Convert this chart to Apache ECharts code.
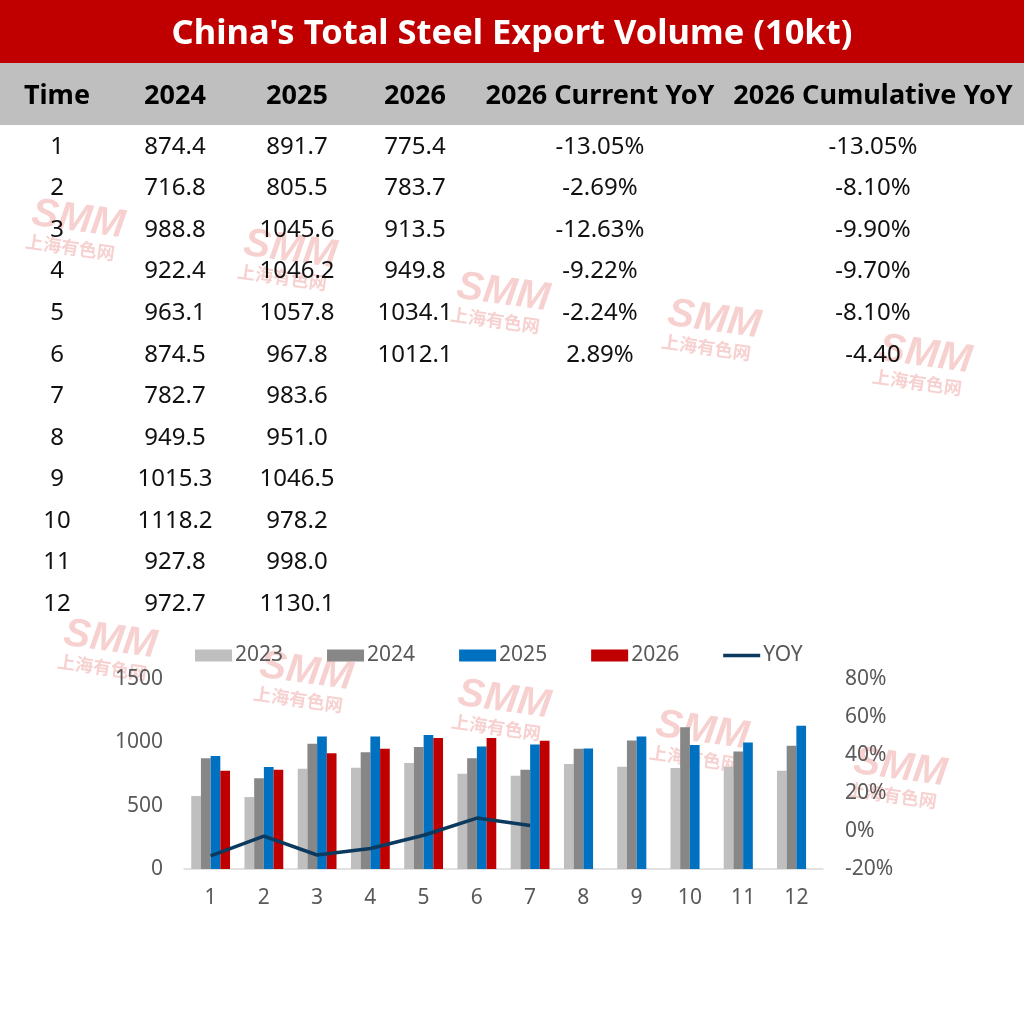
<!DOCTYPE html>
<html lang="en">
<head>
    <meta charset="utf-8">
    <title>China's Total Steel Export Volume</title>
    <style>
        html, body { margin: 0; padding: 0; background: #fff; }
        #main { width: 1024px; height: 1014px; }
    </style>
</head>
<body>
<div id="main"></div>
<script src="https://cdn.jsdelivr.net/npm/echarts@6/dist/echarts.min.js"></script>
<script type="text/javascript">

    // months (chart categories and table rows)
    var months = ['1', '2', '3', '4', '5', '6', '7', '8', '9', '10', '11', '12'];

    // chart series
    var v2023 = [576, 568, 791, 799, 836, 752, 736, 828, 807, 797, 807, 776];
    var v2024 = [874.4, 716.8, 988.8, 922.4, 963.1, 874.5, 782.7, 949.5, 1015.3, 1118.2, 927.8, 972.7];
    var v2025 = [891.7, 805.5, 1045.6, 1046.2, 1057.8, 967.8, 983.6, 951.0, 1046.5, 978.2, 998.0, 1130.1];
    var v2026 = [775.4, 783.7, 913.5, 949.8, 1034.1, 1034.0, 1012.1];
    var yoy = [-13.05, -2.69, -12.63, -9.22, -2.24, 6.80, 2.89];

    // table columns
    var tableHead = ['Time', '2024', '2025', '2026', '2026 Current YoY', '2026 Cumulative YoY'];
    var t2026 = ['775.4', '783.7', '913.5', '949.8', '1034.1', '1012.1'];
    var tCurYoy = ['-13.05%', '-2.69%', '-12.63%', '-9.22%', '-2.24%', '2.89%'];
    var tCumYoy = ['-13.05%', '-8.10%', '-9.90%', '-9.70%', '-8.10%', '-4.40'];

    var colX = [57, 175, 297, 415, 600, 873];
    var FONT = "'Noto Sans', 'Noto Sans CJK SC', sans-serif";

    var graphics = [];
    // title bar + header band
    graphics.push({ type: 'rect', shape: { x: 0, y: 0, width: 1024, height: 63 }, style: { fill: '#C00000' }, z: 1 });
    graphics.push({ type: 'rect', shape: { x: 0, y: 63, width: 1024, height: 62 }, style: { fill: '#BFBFBF' }, z: 1 });
    graphics.push({
        type: 'text', z: 5,
        style: { text: "China's Total Steel Export Volume (10kt)", x: 512, y: 34, textAlign: 'center', textVerticalAlign: 'middle',
            font: 'bold 34.5px ' + FONT, fill: '#fff' }
    });
    tableHead.forEach(function (h, i) {
        graphics.push({
            type: 'text', z: 5,
            style: { text: h, x: colX[i], y: 96, textAlign: 'center', textVerticalAlign: 'middle', font: 'bold 27px ' + FONT, fill: '#000' }
        });
    });

    function cell(txt, col, row) {
        graphics.push({
            type: 'text', z: 5,
            style: { text: txt, x: colX[col], y: 147 + row * 41.55, textAlign: 'center', textVerticalAlign: 'middle',
                font: '24px ' + FONT, fill: '#111' }
        });
    }
    months.forEach(function (m, i) {
        cell(m, 0, i);
        cell(v2024[i].toFixed(1), 1, i);
        cell(v2025[i].toFixed(1), 2, i);
        if (i < t2026.length) {
            cell(t2026[i], 3, i);
            cell(tCurYoy[i], 4, i);
            cell(tCumYoy[i], 5, i);
        }
    });

    // SMM watermarks
    var marks = [[78, 220], [290, 250], [503, 293], [714, 320], [925, 355],
                 [110, 640], [306, 672], [504, 700], [702, 731], [900, 768]];
    marks.forEach(function (p) {
        graphics.push({
            type: 'group', x: p[0], y: p[1], rotation: -0.14, z: 10,
            children: [
                { type: 'text', style: { text: 'SMM', x: 0, y: 0, textAlign: 'center', textVerticalAlign: 'middle',
                    font: 'italic bold 40px "Liberation Sans", Arial, sans-serif', fill: 'rgba(232,120,120,0.35)' } },
                { type: 'text', style: { text: '上海有色网', x: -4, y: 28, textAlign: 'center', textVerticalAlign: 'middle',
                    font: 'bold 18px "Noto Sans CJK SC", sans-serif', fill: 'rgba(232,120,120,0.35)' } }
            ]
        });
    });

    var myChart = echarts.init(document.getElementById('main'));
    var axisText = { color: '#595959', fontSize: 21, fontFamily: FONT };
    var option = {
        backgroundColor: '#fff',
        animation: false,
        textStyle: { fontFamily: FONT },
        graphic: graphics,
        legend: {
            left: 190, top: 640,
            itemWidth: 37, itemHeight: 12, itemGap: 44,
            textStyle: { color: '#595959', fontSize: 21, fontFamily: FONT, padding: [0, 0, 0, -2] },
            data: [
                { name: '2023', icon: 'rect' },
                { name: '2024', icon: 'rect' },
                { name: '2025', icon: 'rect' },
                { name: '2026', icon: 'rect' },
                { name: 'YOY', icon: 'path://M0,0H37V3.5H0Z' }
            ]
        },
        grid: { left: 184, right: 201, top: 679, bottom: 145 },
        xAxis: {
            type: 'category',
            data: months,
            axisTick: { show: false },
            axisLine: { lineStyle: { color: '#D9D9D9', width: 1.5 } },
            axisLabel: Object.assign({ margin: 19 }, axisText)
        },
        yAxis: [{
            type: 'value', min: 0, max: 1500, interval: 500,
            splitLine: { show: false },
            axisLine: { show: false },
            axisLabel: Object.assign({ margin: 21, formatter: function (v) { return String(v); } }, axisText)
        }, {
            type: 'value', min: -20, max: 80, interval: 20,
            splitLine: { show: false },
            axisLine: { show: false },
            axisLabel: Object.assign({ margin: 22, formatter: '{value}%' }, axisText)
        }],
        series: [
            { name: '2023', type: 'bar', data: v2023, barWidth: 9.7, barGap: '0%', itemStyle: { color: '#BFBFBF' } },
            { name: '2024', type: 'bar', data: v2024, barWidth: 9.7, barGap: '0%', itemStyle: { color: '#878787' } },
            { name: '2025', type: 'bar', data: v2025, barWidth: 9.7, barGap: '0%', itemStyle: { color: '#0070C0' } },
            { name: '2026', type: 'bar', data: v2026, barWidth: 9.7, barGap: '0%', itemStyle: { color: '#C00000' } },
            {
                name: 'YOY', type: 'line', yAxisIndex: 1, data: yoy,
                symbol: 'none', z: 5,
                lineStyle: { color: '#0B3A5E', width: 3.5 },
                itemStyle: { color: '#0B3A5E' }
            }
        ]
    };
    myChart.setOption(option);

</script>
</body>
</html>
